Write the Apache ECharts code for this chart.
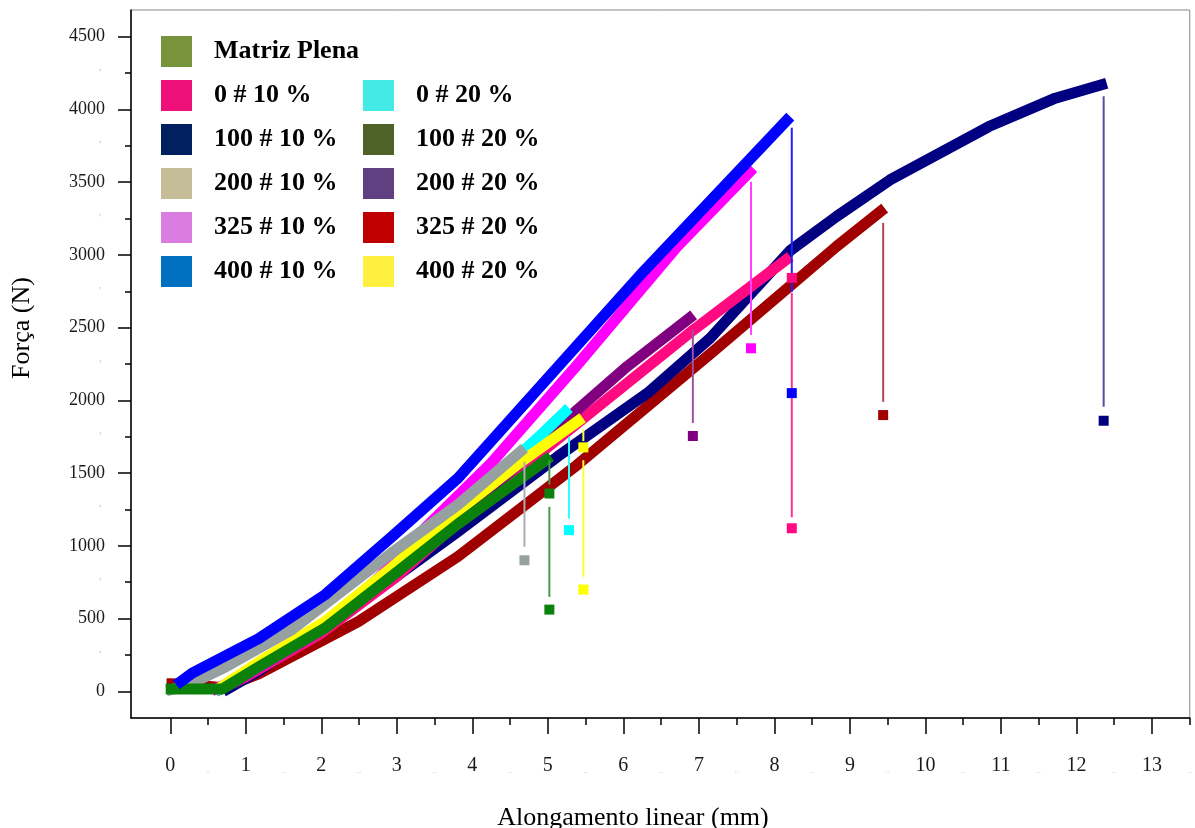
<!DOCTYPE html>
<html><head><meta charset="utf-8">
<script src="https://cdn.jsdelivr.net/npm/echarts@6/dist/echarts.min.js"></script>
<style>html,body{margin:0;padding:0;background:#fff}#c{width:1195px;height:828px}</style>
</head><body><div id="c"></div><script>
const SERIF = '"Liberation Serif","Times New Roman",serif';

// ---- tick labels ----
const xMajor = [0,1,2,3,4,5,6,7,8,9,10,11,12,13];
const xMinor = [0.5,1.5,2.5,3.5,4.5,5.5,6.5,7.5,8.5,9.5,10.5,11.5,12.5,13.5];
const yMajor = [0,500,1000,1500,2000,2500,3000,3500,4000,4500];
const yMinor = [250,750,1250,1750,2250,2750,3250,3750,4250];

// ---- legend ----
const legendCol1 = ['Matriz Plena','0 # 10 %','100 # 10 %','200 # 10 %','325 # 10 %','400 # 10 %'];
const legendCol1Colors = ['#77933C','#F0107A','#002060','#C4BD97','#DA7CE0','#0070C0'];
const legendCol2 = ['0 # 20 %','100 # 20 %','200 # 20 %','325 # 20 %','400 # 20 %'];
const legendCol2Colors = ['#44EAE6','#4F6228','#604080','#C00000','#FFF040'];

// ---- curves [alongamento mm, força N] ----
const curveMatriz = [[-0.06,16],[0.69,16],[1.17,168],[2.05,435],[2.93,790],[3.81,1150],[5.04,1614]];
const curve0_10   = [[0.6,0],[1.0,100],[2.0,400],[3.0,790],[4.0,1250],[5.0,1680],[5.83,2027],[6.93,2485],[8.21,2988]];
const curve100_10 = [[0.7,0],[1.17,140],[2.49,600],[3.81,1099],[5.13,1614],[6.32,2050],[7.15,2428],[8.21,3030],[8.82,3263],[9.53,3515],[10.84,3882],[11.72,4077],[12.40,4180]];
const curve200_10 = [[-0.05,5],[0.2,35],[0.73,168],[1.61,424],[2.93,951],[3.81,1283],[4.69,1672]];
const curve325_10 = [[0.55,5],[1.0,110],[2.0,420],[2.8,800],[3.37,1120],[4.25,1569],[5.39,2244],[6.71,3057],[7.72,3596]];
const curve400_10 = [[0.08,45],[0.29,126],[1.17,362],[2.05,664],[2.93,1061],[3.81,1466],[4.82,2050],[6.27,2888],[8.21,3950]];
const curve0_20   = [[0.6,0],[1.0,120],[2.0,450],[3.0,880],[4.0,1330],[4.91,1763],[5.28,1947]];
const curve200_20 = [[0.6,0],[1.0,110],[2.0,420],[3.0,820],[4.0,1290],[4.7,1600],[5.39,1935],[6.05,2233],[6.93,2588]];
const curve325_20 = [[-0.05,53],[0.15,50],[0.7,25],[1.17,120],[2.49,480],[3.81,927],[5.39,1557],[7.2,2341],[8.82,3057],[9.46,3321]];
const curve400_20 = [[0.6,5],[1.17,200],[2.05,480],[2.93,850],[3.81,1240],[4.6,1560],[5.46,1880]];

// ---- failure drops: [x, top, bottom] and squares [x, y] ----
const dropMatriz = [[5.02,1590,1420],[5.02,1268,649]];   const sqMatriz = [[5.02,1360],[5.02,562]];
const drop0_10   = [[8.23,2739,1197]];                  const sq0_10   = [[8.23,2842],[8.23,1121]];
const drop100_10 = [[12.36,4090,1956]];                 const sq100_10 = [[12.36,1860]];
const drop200_10 = [[4.69,1578,993]];                   const sq200_10 = [[4.69,901]];
const drop325_10 = [[7.69,3502,2450]];                  const sq325_10 = [[7.69,2358]];
const drop400_10 = [[8.23,3874,2745]];                  const sq400_10 = [[8.23,2050]];
const drop0_20   = [[5.28,1750,1188]];                  const sq0_20   = [[5.28,1108]];
const drop200_20 = [[6.92,2484,1844]];                  const sq200_20 = [[6.92,1755]];
const drop325_20 = [[9.44,3220,1990]];                  const sq325_20 = [[9.44,1899]];
const drop400_20 = [[5.47,1800,1720],[5.47,1589,787]];  const sq400_20 = [[5.47,1677],[5.47,700]];

// drawing order bottom -> top
const specimens = [
  [curve325_20, drop325_20, sq325_20, '#A00000', '#B04848'],
  [curve100_10, drop100_10, sq100_10, '#000080', '#5050A8'],
  [curve0_10,   drop0_10,   sq0_10,   '#FF0A80', '#FF3090'],
  [curve200_20, drop200_20, sq200_20, '#800080', '#A050A0'],
  [curve0_20,   drop0_20,   sq0_20,   '#00FFFF', '#30FFFF'],
  [curve325_10, drop325_10, sq325_10, '#FF00FF', '#FF40FF'],
  [curve400_20, drop400_20, sq400_20, '#FFFF00', '#FFFF30'],
  [curve200_10, drop200_10, sq200_10, '#96A0A0', '#A8B0B0'],
  [curveMatriz, dropMatriz, sqMatriz, '#0B800B', '#4A9A4A'],
  [curve400_10, drop400_10, sq400_10, '#0000FF', '#2020FF']
];

const series = [];
specimens.forEach(s => {
  series.push({type:'line', data:s[0], showSymbol:false, smooth:false,
    lineStyle:{color:s[3], width:11, cap:'butt', join:'round'}, itemStyle:{color:s[3]}, silent:true, z:2});
});
specimens.forEach(s => {
  s[1].forEach(seg => series.push({type:'line', data:[[seg[0],seg[1]],[seg[0],seg[2]]], showSymbol:false,
    lineStyle:{color:s[4], width:2}, silent:true, z:3}));
  series.push({type:'scatter', data:s[2], symbol:'rect', symbolSize:10, itemStyle:{color:s[3], opacity:1}, silent:true, z:4});
});
legendCol1.forEach((n,i)=>series.push({type:'scatter', name:n, data:[], itemStyle:{color:legendCol1Colors[i], opacity:1}}));
legendCol2.forEach((n,i)=>series.push({type:'scatter', name:n, data:[], itemStyle:{color:legendCol2Colors[i], opacity:1}}));

const legendBase = {orient:'vertical', itemWidth:31, itemHeight:31, itemGap:13, icon:'rect', selectedMode:false, padding:0,
  itemStyle:{opacity:1},
  textStyle:{fontFamily:SERIF, fontWeight:'bold', fontSize:26, color:'#000', padding:[0,0,0,17]}};

const X_MIN = -0.52, X_MAX = 13.5, Y_MIN = -183, Y_MAX = 4683;
const labelColor = '#1a1a1a';

const option = {
  animation:false,
  backgroundColor:'#fff',
  grid:{left:131, right:1, top:10, bottom:110, show:true, borderColor:'#888', borderWidth:1},
  legend:[
    Object.assign({}, legendBase, {data:legendCol1, left:161, top:36}),
    Object.assign({}, legendBase, {data:legendCol2, left:363, top:80})
  ],
  xAxis:[
    {type:'value', min:X_MIN, max:X_MAX, position:'bottom',
     axisLine:{onZero:false, lineStyle:{color:'#000', width:1.5}},
     axisTick:{customValues:xMajor, length:16, lineStyle:{color:'#000', width:1.5}},
     axisLabel:{customValues:xMajor, margin:38, fontSize:20, fontFamily:SERIF, color:labelColor, formatter:v=>String(v)},
     splitLine:{show:false}},
    {type:'value', min:X_MIN, max:X_MAX, position:'bottom',
     axisLine:{show:false, onZero:false},
     axisTick:{customValues:xMinor, length:7, lineStyle:{color:'#000', width:1.5}},
     axisLabel:{customValues:xMinor, margin:48, fontSize:9, fontFamily:SERIF, color:'#b4bccc', formatter:()=>'..'},
     splitLine:{show:false}}
  ],
  yAxis:[
    {type:'value', min:Y_MIN, max:Y_MAX, position:'left',
     axisLine:{onZero:false, show:true, lineStyle:{color:'#000', width:1.5}},
     axisTick:{show:true, customValues:yMajor, length:13, lineStyle:{color:'#000', width:1.5}},
     axisLabel:{customValues:yMajor, margin:26, fontSize:18, fontFamily:SERIF, color:labelColor, formatter:v=>String(v)},
     splitLine:{show:false}},
    {type:'value', min:Y_MIN, max:Y_MAX, position:'left',
     axisLine:{show:false, onZero:false},
     axisTick:{show:true, customValues:yMinor, length:6, lineStyle:{color:'#000', width:1.5}},
     axisLabel:{customValues:yMinor, margin:30, fontSize:10, fontFamily:SERIF, color:'#aab6c8', formatter:()=>'\''},
     splitLine:{show:false}}
  ],
  graphic:[
    {type:'text', x:22, y:328, rotation:Math.PI/2,
     style:{text:'Força (N)', font:'26px '+SERIF, fill:'#000', textAlign:'center', textVerticalAlign:'middle', align:'center', verticalAlign:'middle'}},
    {type:'text', x:633, y:818,
     style:{text:'Alongamento linear (mm)', font:'26px '+SERIF, fill:'#000', textAlign:'center', textVerticalAlign:'middle', align:'center', verticalAlign:'middle'}}
  ],
  series:series
};
const chart = echarts.init(document.getElementById('c'), null, {renderer:'canvas'});
chart.setOption(option);
</script></body></html>
